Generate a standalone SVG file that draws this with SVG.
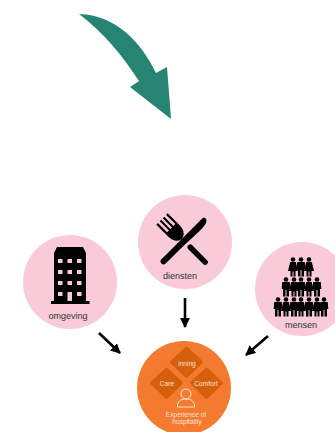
<svg xmlns="http://www.w3.org/2000/svg" width="335" height="432" viewBox="0 0 335 432">
<style>
.pink{fill:#f9cbd9}
.lbl{font-family:"Liberation Sans",Arial,sans-serif;font-size:9px;fill:#333;text-anchor:middle}
.wl{font-family:"Liberation Sans",Arial,sans-serif;font-size:6.600px;fill:#fbe3d4;text-anchor:middle}
.dia{fill:#d65f0c;stroke:#d65f0c;stroke-width:3;stroke-linejoin:round}
.conn{stroke:#000;stroke-width:2.600;fill:none;marker-end:url(#ah)}
</style>
<defs>
<marker id="ah" markerUnits="userSpaceOnUse" markerWidth="11" markerHeight="11" refX="9" refY="5" orient="auto"><path d="M0 0L10 5L0 10Z" fill="#000"/></marker>
<g id="man"><circle cx="0" cy="-8.500" r="2.300"/><path d="M-3.800-6H3.800L4.300 1H3V8.500H0.500V2H-0.500V8.500H-3V1H-4.300Z"/></g>
<g id="woman"><circle cx="0" cy="-8.500" r="2.300"/><path d="M-2.800-6H2.800L5 3H2.500V8.500H0.500V3.500H-0.500V8.500H-2.500V3H-5Z"/></g>
</defs>
<g id="big-arrow"><path d="M79 14C116 15 141 42 156 73L167 67L171 119L130 87L139 81C122 55 103 32 79 14Z" fill="#288472"/></g>
<g id="connectors">
<path class="conn" d="M185 298V327"/>
<path class="conn" d="M99 333L120 353"/>
<path class="conn" d="M268 336L246 355"/>
</g>
<g id="omgeving">
<circle class="pink" cx="70" cy="282" r="47"/>
<path d="M57 247H83L86 253V301H89.500V304H51V301H54V253Z" fill="#000"/>
<g fill="#f9cbd9">
<rect x="58" y="259" width="4.500" height="4"/><rect x="67.500" y="259" width="4.500" height="4"/><rect x="77" y="259" width="4.500" height="4"/>
<rect x="58" y="270" width="4.500" height="4"/><rect x="67.500" y="270" width="4.500" height="4"/><rect x="77" y="270" width="4.500" height="4"/>
<rect x="58" y="281" width="4.500" height="4"/><rect x="67.500" y="281" width="4.500" height="4"/><rect x="77" y="281" width="4.500" height="4"/>
<rect x="58" y="292" width="4.500" height="4"/><rect x="67.500" y="292" width="4.500" height="9"/><rect x="77" y="292" width="4.500" height="4"/>
</g>
<text class="lbl" x="68" y="319">omgeving</text>
</g>
<g id="diensten">
<circle class="pink" cx="185" cy="242" r="47"/>
<g transform="translate(162 219) rotate(-45)" fill="#000">
<path d="M-8 0H-5.800V13H-3.200V0H-1.100V13H1.100V0H3.200V13H5.800V0H8V17C8 24 4 28 0 28C-4 28 -8 24 -8 17Z"/>
<path d="M0 40V61" stroke="#000" stroke-width="5.500" stroke-linecap="round"/>
</g>
<g transform="translate(206 219) rotate(45)" fill="#000">
<path d="M0 0C3 1 4 5 4 12L3 38H-3V2C-3 0.500 -1 -0.500 0 0Z"/>
<path d="M0 38V60" stroke="#000" stroke-width="6" stroke-linecap="round"/>
</g>
<text class="lbl" x="180" y="279">diensten</text>
</g>
<g id="mensen">
<circle class="pink" cx="302" cy="289" r="47"/>
<g fill="#000">
<use href="#woman" x="293" y="268"/><use href="#man" x="301" y="268"/><use href="#woman" x="309" y="268"/>
<use href="#man" x="286" y="288"/><use href="#woman" x="294" y="288"/><use href="#man" x="301" y="288"/><use href="#woman" x="309" y="288"/><use href="#man" x="317" y="288"/>
<use href="#man" x="278" y="308"/><use href="#woman" x="286" y="308"/><use href="#man" x="294" y="308"/><use href="#woman" x="301" y="308"/><use href="#man" x="309" y="308"/><use href="#woman" x="317" y="308"/><use href="#man" x="324" y="308"/>
</g>
<text class="lbl" x="301" y="328">mensen</text>
</g>
<g id="experience">
<circle cx="184" cy="388" r="47" fill="#f47a30"/>
<path class="dia" d="M186.500 348L201.500 362L186.500 376.500L171.500 362Z"/>
<path class="dia" d="M166.500 369L181.500 383L166.500 397.500L151.500 383Z"/>
<path class="dia" d="M206.500 369L221.500 383L206.500 397.500L191.500 383Z"/>
<text class="wl" x="187" y="366">inning</text>
<text class="wl" x="167" y="386">Care</text>
<text class="wl" x="206" y="386">Comfort</text>
<circle cx="186" cy="394" r="5" fill="none" stroke="#fbe3d4"/>
<path d="M177.500 407C177 401 181 399 186 399C191 399 195 401 194.500 407Z" fill="none" stroke="#fbe3d4"/>
<text class="wl" x="186" y="417">Experience of</text>
<text class="wl" x="187" y="424">hospitality</text>
</g>
</svg>
